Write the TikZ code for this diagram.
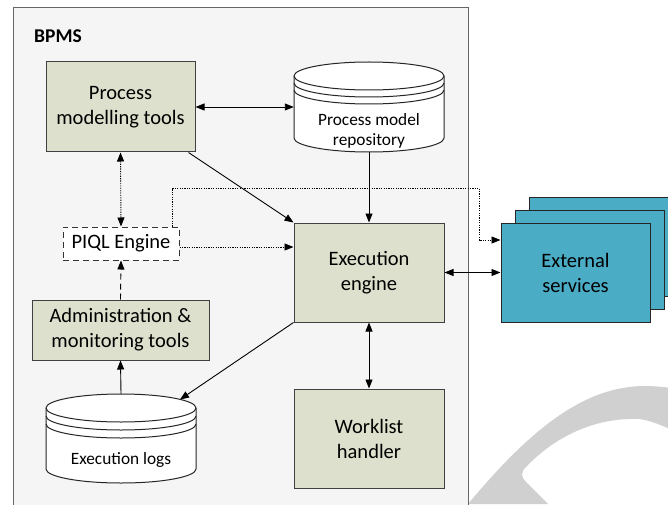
\documentclass[tikz,border=0pt]{standalone}
\usepackage{fontspec}
\setmainfont{Carlito}
\usetikzlibrary{arrows.meta,calc}
\definecolor{boxgreen}{RGB}{221,224,204}
\definecolor{extblue}{RGB}{75,172,198}
\definecolor{bggray}{RGB}{245,245,245}
\definecolor{wmgray}{RGB}{208,208,208}
\definecolor{edgegray}{RGB}{64,64,64}
\begin{document}
\begin{tikzpicture}[x=1pt,y=1pt,
  bigfont/.style={font=\fontsize{20.5}{25}\selectfont},
  smallfont/.style={font=\fontsize{17.3}{20.5}\selectfont},
  greenbox/.style={draw=edgegray, fill=boxgreen, line width=1pt, inner sep=0pt, align=center, bigfont},
  extbox/.style={draw=black!85, fill=extblue, line width=1pt, minimum width=149, minimum height=99, inner sep=0pt, align=center, bigfont},
  tip/.tip={Triangle[length=9pt,width=7pt]},
  conn/.style={line width=0.9pt, -tip},
  biconn/.style={line width=0.9pt, tip-tip},
  dotline/.style={dash pattern=on 1.2pt off 1.2pt},
  dashline/.style={dash pattern=on 6pt off 4pt},
  cyl/.style={draw=black!85, fill=white, line width=1pt},
  area/.style={minimum width=150, inner sep=0pt},
]
\useasboundingbox (0,0) rectangle (668,504);
\clip (0,0) rectangle (668,504);
\fill[white] (0,0) rectangle (668,504);
% watermark
\fill[wmgray] (468,0) .. controls (525,68) and (580,118) .. (645,118)
  .. controls (655,118) and (662,117) .. (672,116) -- (672,74)
  .. controls (652,83) and (642,86) .. (630,85)
  .. controls (582,84) and (546,58) .. (527,38)
  .. controls (520,32) and (521,27) .. (526,22) -- (548,0) -- cycle;
% container
\draw[fill=bggray, draw=black!60, line width=1pt] (13,-10) rectangle (468,496);
\node[anchor=west, font=\fontsize{19.5}{22}\selectfont\bfseries, inner sep=0pt] (bpms) at (34,468) {BPMS};
% green boxes
\node[greenbox, minimum width=149, minimum height=90] (pmt) at (120.5,397) {Process\\modelling tools};
\node[greenbox, minimum width=150, minimum height=99] (engine) at (369,231.5) {Execution\\engine};
\node[greenbox, minimum width=150, minimum height=99] (work) at (369,65.5) {Worklist\\handler};
\node[greenbox, minimum width=177, minimum height=60] (admin) at (120.5,174) {Administration \&\\monitoring tools};
\node[draw=black!80, dashline, fill=white, line width=1pt, minimum width=116, minimum height=33, inner sep=0pt, bigfont] (piql) at (121,260.5) {PIQL Engine};
% cylinders
\node[area, minimum height=90] (repo) at (369,397) {};
\draw[cyl] (294,428) -- (294,366) arc[start angle=180,end angle=360,x radius=75,y radius=14]
  -- (444,428) arc[start angle=0,end angle=180,x radius=75,y radius=14] -- cycle;
\draw[black!85, line width=1pt] (294,428) arc[start angle=180,end angle=360,x radius=75,y radius=14];
\draw[black!85, line width=1pt] (294,421) arc[start angle=180,end angle=360,x radius=75,y radius=14];
\draw[black!85, line width=1pt] (294,414) arc[start angle=180,end angle=360,x radius=75,y radius=14];
\node[smallfont, align=center, inner sep=0pt] (repotxt) at (369,373) {Process model\\repository};
\node[area, minimum height=89] (logs) at (121,65.5) {};
\draw[cyl] (46,96) -- (46,35) arc[start angle=180,end angle=360,x radius=75,y radius=14]
  -- (196,96) arc[start angle=0,end angle=180,x radius=75,y radius=14] -- cycle;
\draw[black!85, line width=1pt] (46,96) arc[start angle=180,end angle=360,x radius=75,y radius=14];
\draw[black!85, line width=1pt] (46,88) arc[start angle=180,end angle=360,x radius=75,y radius=14];
\draw[black!85, line width=1pt] (46,80) arc[start angle=180,end angle=360,x radius=75,y radius=14];
\node[smallfont, inner sep=0pt] (logstxt) at (121,44) {Execution logs};
% external services
\node[extbox] (ext3) at (603.5,257.5) {};
\node[extbox] (ext2) at (589.5,244.5) {};
\node[extbox] (ext) at (575.5,231.5) {External\\services};
% connectors
\draw[biconn] (pmt.east) -- (repo.west);
\draw[conn] ($(pmt.south east)+(-7,0)$) -- (engine.north west);
\draw[conn] (repo.south) -- (engine.north);
\draw[biconn, dotline] (pmt.south) -- (piql.north);
\coordinate (pe) at ($(piql.east)+(0,-3.5)$);
\draw[conn, dotline] (pe) -- (pe -| engine.west);
\coordinate (bend) at (479,316);
\coordinate (extin) at ($(ext.west)+(0,32.5)$);
\coordinate (pn) at ($(piql.north east)+(-7,0)$);
\draw[conn, dotline] (pn) |- (bend) |- (extin);
\draw[conn, dashline] (admin.north) -- (piql.south);
\draw[biconn] (engine.east) -- (ext.west);
\draw[biconn] (engine.south) -- (work.north);
\coordinate (logsin) at ($(logs.center)+(59,39)$);
\draw[conn] (engine.south west) -- (logsin);
\draw[conn] (logs.north) -- (admin.south);
\end{tikzpicture}
\end{document}
